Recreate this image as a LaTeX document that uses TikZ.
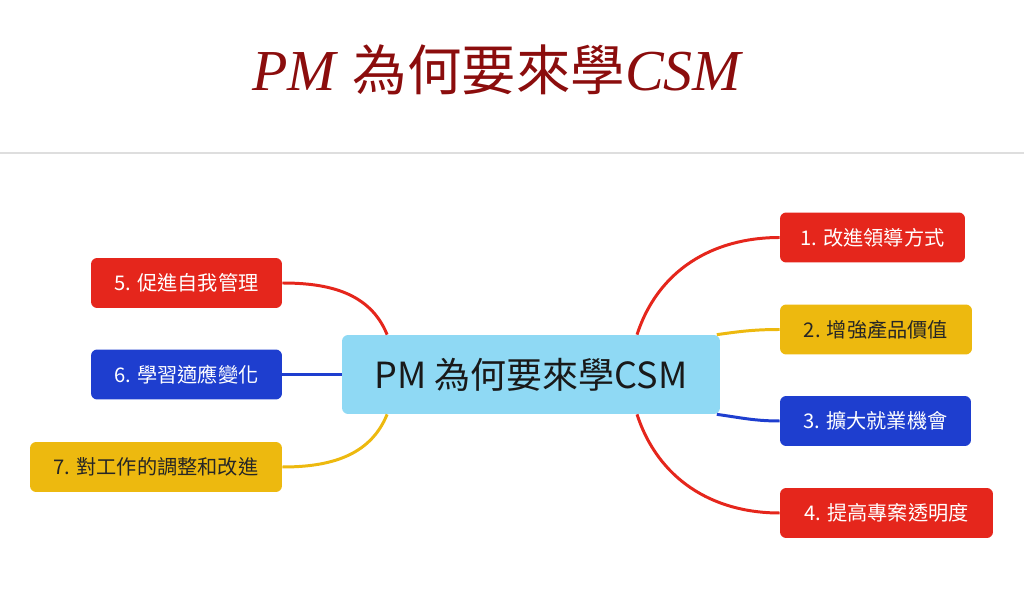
\documentclass[tikz,border=0pt]{standalone}
\usepackage{fontspec}
\usepackage{xcolor}
\usepackage{tikz}
\setmainfont{Liberation Serif}
\newfontfamily\cjk{Noto Sans CJK TC}
\usetikzlibrary{positioning,calc}

\definecolor{titlered}{HTML}{8B0D0D}
\definecolor{mapred}{HTML}{E5261C}
\definecolor{mapyellow}{HTML}{EDB90F}
\definecolor{mapblue}{HTML}{1E3ECF}
\definecolor{mapsky}{HTML}{8FD9F4}
\definecolor{rulegray}{HTML}{DEDEDE}

\tikzset{
    topic/.style={rounded corners=3.5pt, minimum height=1cm, inner xsep=0pt,
        font=\cjk\fontsize{11.5}{13}\selectfont},
    redtopic/.style={topic, fill=mapred, text=white},
    bluetopic/.style={topic, fill=mapblue, text=white},
    yellowtopic/.style={topic, fill=mapyellow, text=black!85},
    branch/.style={line width=1.7pt},
}

\begin{document}
\begin{tikzpicture}[x=0.02cm,y=-0.02cm]
    \useasboundingbox (0,0) rectangle (1024,597);
    % heading
    \node[text=titlered, font=\fontsize{33}{36}\selectfont] (title) at (498,70)
        {\textit{PM} {\cjk\fontsize{31}{34}\selectfont 為何要來學}\textit{CSM}};
    \draw[rulegray, line width=0.8pt] (0,153) -- (1024,153);
    % centre topic
    \node[rounded corners=3.5pt, fill=mapsky, minimum width=7.56cm, minimum height=1.58cm,
        font=\cjk\fontsize{20.5}{23}\selectfont, text=black!90] (pm) at (531,374.5) {PM 為何要來學CSM};
    % right side
    \node[redtopic, minimum width=3.7cm] (lead) at (872.5,237.5) {1. 改進領導方式};
    \node[yellowtopic, minimum width=3.84cm] (value) at (876,329.5) {2. 增強產品價值};
    \node[bluetopic, minimum width=3.82cm] (jobs) at (875.5,421) {3. 擴大就業機會};
    \node[redtopic, minimum width=4.26cm] (clear) at (886.5,513) {4. 提高專案透明度};
    % left side
    \node[redtopic, minimum width=3.82cm] (self) at (186.5,283) {5. 促進自我管理};
    \node[bluetopic, minimum width=3.82cm] (adapt) at (186.5,374.5) {6. 學習適應變化};
    \node[yellowtopic, minimum width=5.04cm] (work) at (156,467) {7. 對工作的調整和改進};
    % branches
    \coordinate (pmtr) at ($(pm.north west)!0.78!(pm.north east)$);
    \coordinate (pmbr) at ($(pm.south west)!0.78!(pm.south east)$);
    \coordinate (pmtl) at ($(pm.north west)!0.12!(pm.north east)$);
    \coordinate (pmbl) at ($(pm.south west)!0.12!(pm.south east)$);
    \draw[branch, mapred] (pmtr) to[out=72, in=180] (lead.west);
    \draw[branch, mapyellow] ([xshift=-2pt]pm.north east) to[out=8, in=180] (value.west);
    \draw[branch, mapblue] ([xshift=-2pt]pm.south east) to[out=-8, in=180] (jobs.west);
    \draw[branch, mapred] (pmbr) to[out=-72, in=180] (clear.west);
    \draw[branch, mapred] (pmtl) to[out=112, in=0] (self.east);
    \draw[branch, mapblue] (adapt.east) -- (pm.west);
    \draw[branch, mapyellow] (pmbl) to[out=-112, in=0] (work.east);
\end{tikzpicture}
\end{document}
